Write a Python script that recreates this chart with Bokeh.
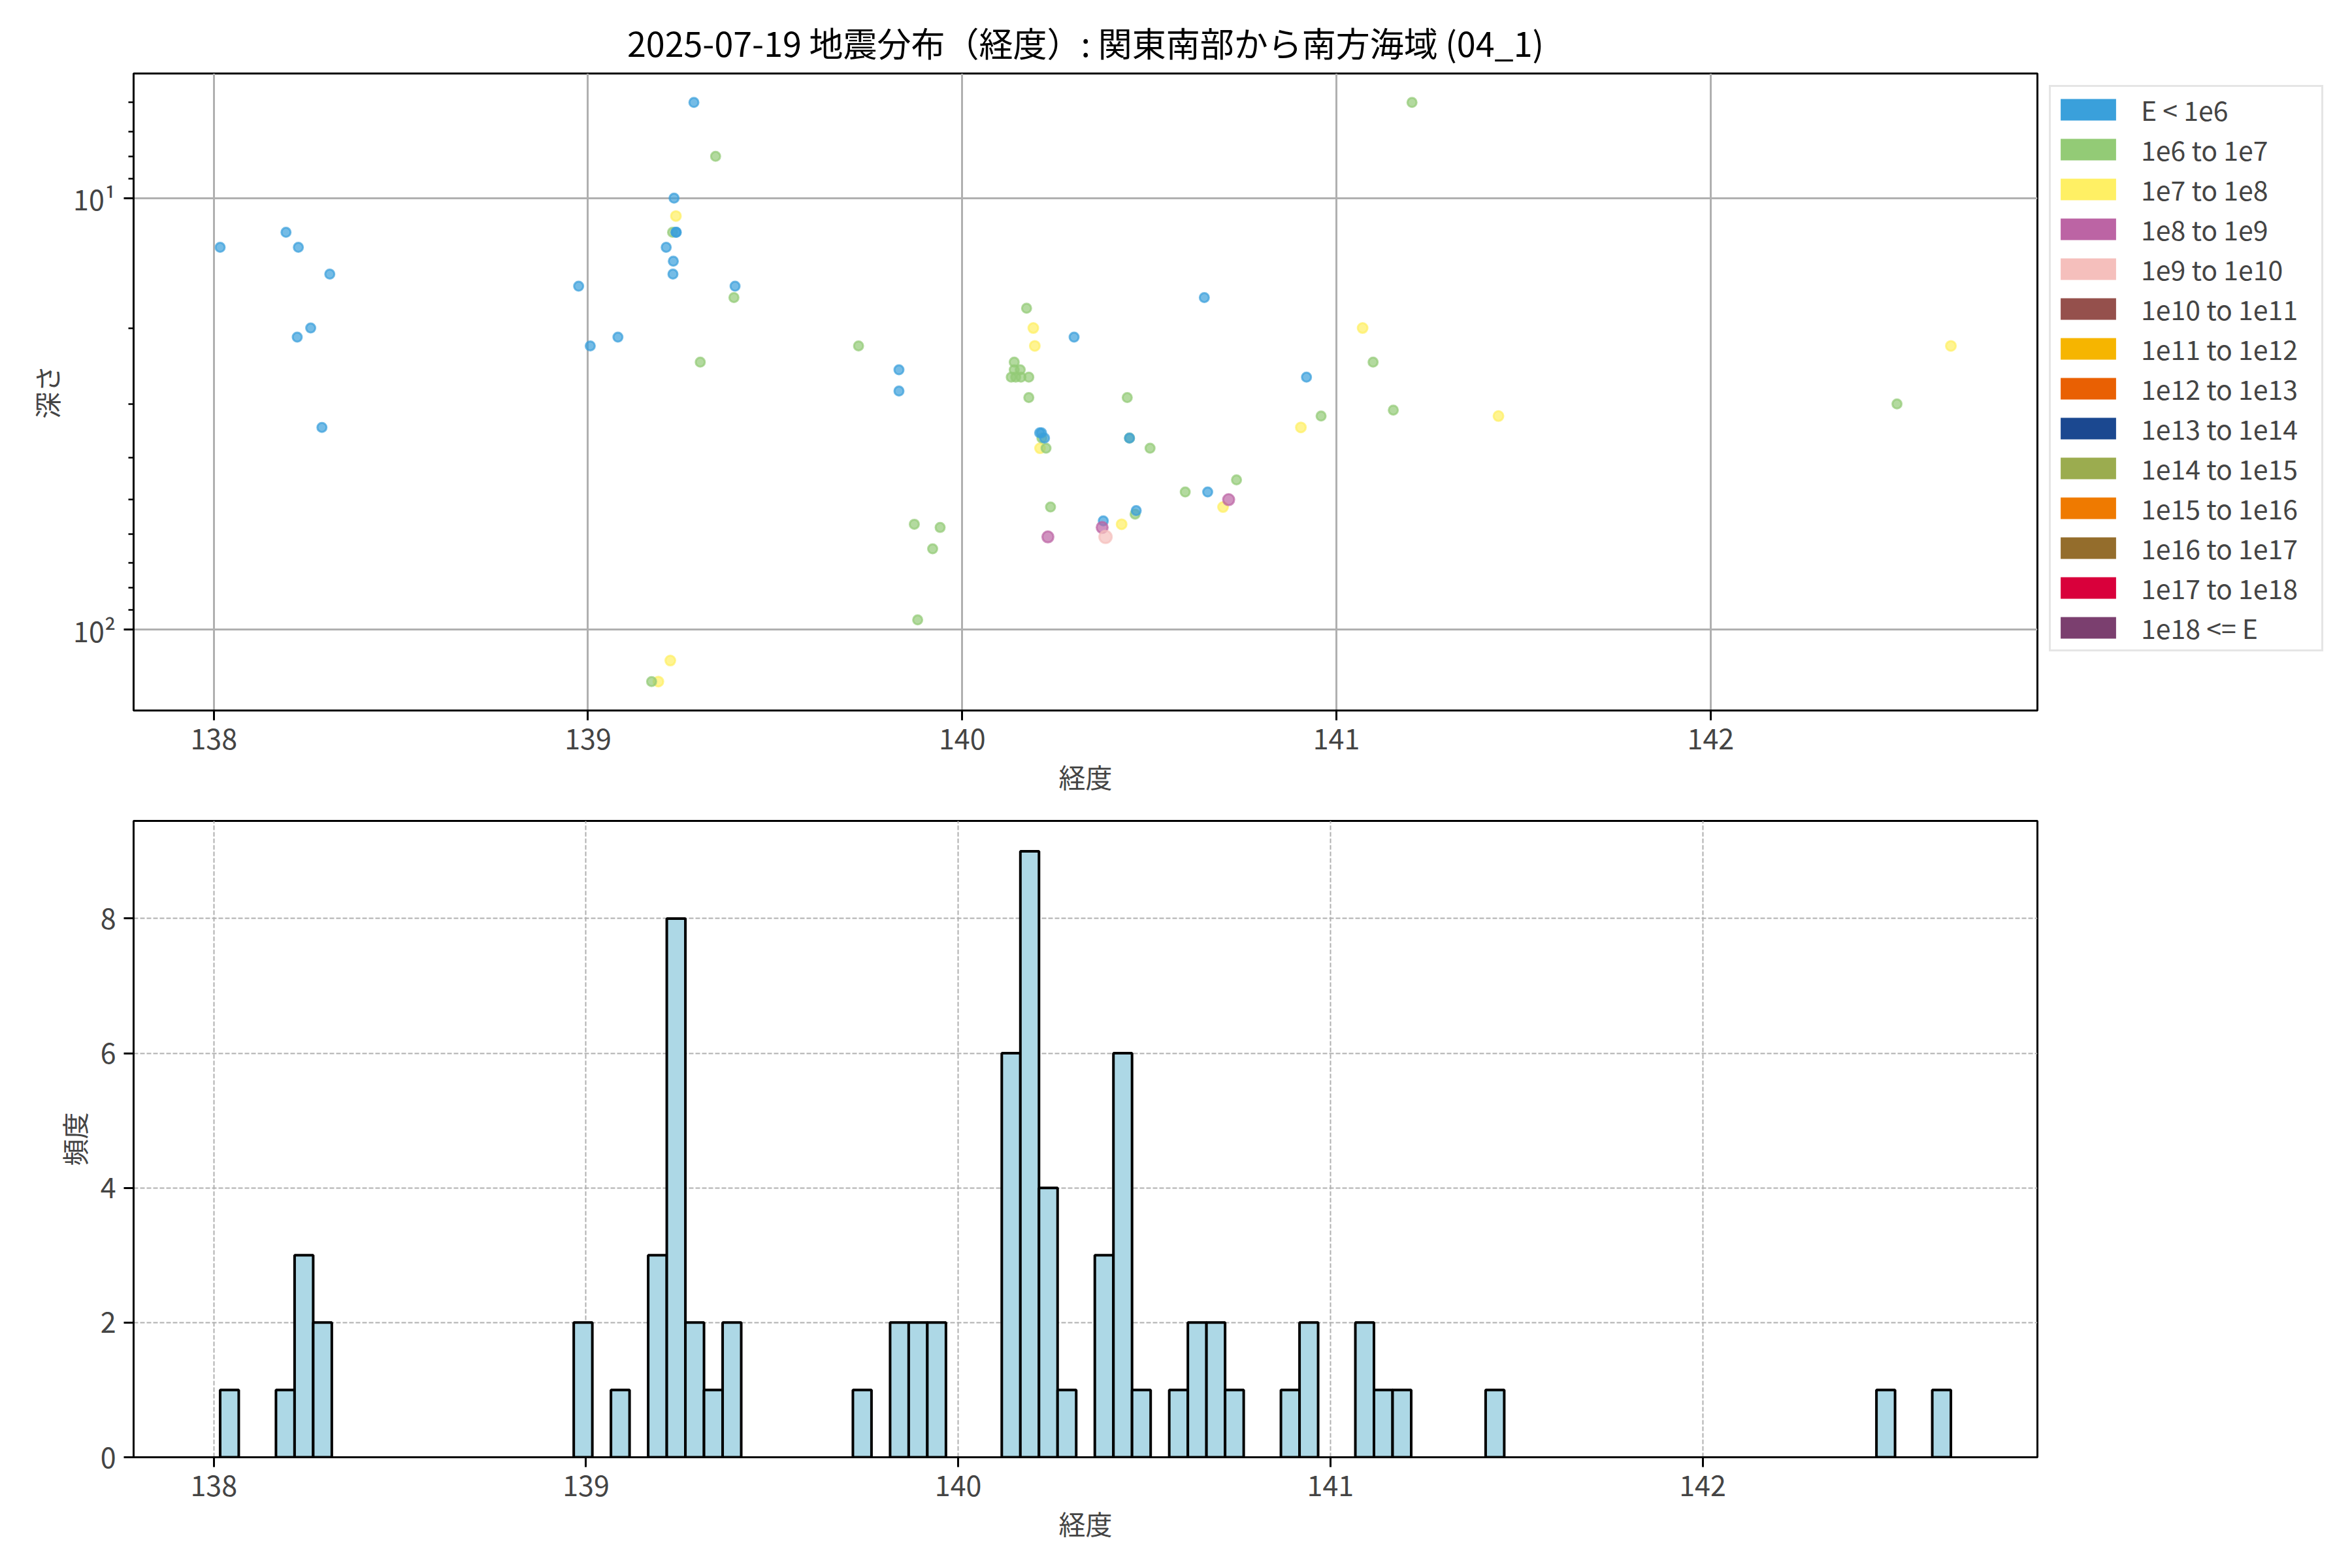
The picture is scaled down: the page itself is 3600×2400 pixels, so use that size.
import numpy as np
from bokeh.plotting import figure
from bokeh.models import (Range1d, FixedTicker, CustomJSTickFormatter, Legend,
                          LegendItem, ColumnDataSource, Title)
from bokeh.layouts import column
from bokeh.embed import file_html
from bokeh.resources import INLINE

FONT = "Noto Sans CJK JP"

# ---------------- data ----------------
title_text = "2025-07-19 地震分布（経度）: 関東南部から南方海域 (04_1)"

energy_labels = ["E < 1e6", "1e6 to 1e7", "1e7 to 1e8", "1e8 to 1e9", "1e9 to 1e10",
                 "1e10 to 1e11", "1e11 to 1e12", "1e12 to 1e13", "1e13 to 1e14",
                 "1e14 to 1e15", "1e15 to 1e16", "1e16 to 1e17", "1e17 to 1e18",
                 "1e18 <= E"]
energy_colors = ["#3aa0db", "#93cb76", "#fff064", "#bc64a4", "#f5bfbc",
                 "#95504c", "#f6b500", "#e96003", "#1b4890", "#9bac4f",
                 "#ef7a00", "#946d2c", "#d9003b", "#7b3f6f"]

# longitude (deg), depth (km), energy class index
lon = [139.283, 139.341, 139.230, 139.235, 139.226, 139.235, 139.236, 139.209,
       139.228, 139.227, 139.393, 139.390, 138.975, 139.006, 139.080, 139.300,
       139.220, 139.170, 139.188, 138.017, 138.193, 138.226, 138.310, 138.223,
       138.259, 138.289,
       141.202, 140.172, 140.190, 140.194, 140.299, 140.647, 139.723, 139.831,
       139.831,
       140.139, 140.139, 140.155, 140.131, 140.143, 140.157, 140.178,
       140.178, 140.441,
       140.207, 140.212, 140.220, 140.213, 140.208, 140.224,
       140.447, 140.447,
       140.502, 140.236, 140.596, 140.656, 140.733, 140.712, 140.697, 140.465,
       140.462, 140.377, 140.374, 140.426, 140.383, 140.229,
       139.872, 139.941, 139.921, 139.881,
       140.920, 140.959, 140.905, 141.070, 141.098, 141.152,
       141.433, 142.498, 142.642]
depth = [6, 8, 10, 11, 12, 12, 12, 13,
         14, 15, 16, 17, 16, 22, 21, 24,
         118, 132, 132, 13, 12, 13, 15, 21,
         20, 34,
         6, 18, 20, 22, 21, 17, 22, 25,
         28,
         24, 25, 25, 26, 26, 26, 26,
         29, 29,
         35, 35, 36, 36, 38, 38,
         36, 36,
         38, 52, 48, 48, 45, 50, 52, 53,
         54, 56, 58, 57, 61, 61,
         57, 58, 65, 95,
         26, 32, 34, 20, 24, 31,
         32, 30, 22]
energy_class = [0, 1, 0, 2, 1, 0, 0, 0,
                0, 0, 0, 1, 0, 0, 0, 1,
                2, 1, 2, 0, 0, 0, 0, 0,
                0, 0,
                1, 1, 2, 2, 0, 0, 1, 0,
                0,
                1, 1, 1, 1, 1, 1, 1,
                1, 1,
                0, 0, 0, 1, 2, 1,
                0, 1,
                1, 1, 1, 0, 1, 3, 2, 0,
                1, 0, 3, 2, 4, 3,
                1, 1, 1, 1,
                0, 1, 2, 2, 1, 1,
                2, 1, 2]

bin_width = 0.05
x_ticks = [138, 139, 140, 141, 142]

# ---------------- styling helpers ----------------
MARKER_SIZE = {0: 14, 1: 14, 2: 15, 3: 17, 4: 19}
DRAW_ORDER = [2, 1, 0, 3, 4]
PAD = 0.05


def style_axes(p):
    for ax in p.axis:
        ax.major_label_text_font = FONT
        ax.major_label_text_font_size = "43px"
        ax.axis_label_text_font = FONT
        ax.axis_label_text_font_size = "41px"
        ax.axis_label_text_font_style = "normal"
        ax.major_tick_in = 0
        ax.major_tick_out = 15
        ax.minor_tick_in = 0
        ax.minor_tick_out = 8
        ax.major_tick_line_width = 3
        ax.minor_tick_line_width = 2.5
        ax.axis_line_width = 3
        ax.major_label_standoff = 12
        ax.axis_label_standoff = 8
    p.outline_line_color = "black"
    p.outline_line_width = 3
    p.outline_line_alpha = 1
    p.background_fill_color = "white"
    p.border_fill_color = "white"


# ---------------- top: scatter ----------------
lon_arr = np.array(lon)
dep_arr = np.array(depth)
cls_arr = np.array(energy_class)

x0, x1 = lon_arr.min(), lon_arr.max()
xr_top = Range1d(x0 - PAD * (x1 - x0), x1 + PAD * (x1 - x0))
ly0, ly1 = np.log10(dep_arr.min()), np.log10(dep_arr.max())
yr_top = Range1d(10 ** (ly1 + PAD * (ly1 - ly0)), 10 ** (ly0 - PAD * (ly1 - ly0)))

p1 = figure(frame_width=2914, frame_height=975, x_range=xr_top, y_range=yr_top,
            y_axis_type="log", output_backend="svg", toolbar_location=None,
            min_border_left=204, min_border_right=20, min_border_top=112,
            min_border_bottom=150)
p1.title = Title(text=title_text, align="center", text_font=FONT,
                 text_font_size="52px", text_font_style="normal",
                 text_color="black", standoff=22)
p1.xaxis.axis_label = "経度"
p1.yaxis.axis_label = "深さ"
p1.xaxis.ticker = FixedTicker(ticks=x_ticks)
p1.yaxis.ticker = FixedTicker(ticks=[10, 100],
                              minor_ticks=[6, 7, 8, 9, 20, 30, 40, 50, 60, 70, 80, 90])
p1.yaxis.formatter = CustomJSTickFormatter(code="""
const sup = {"0":"\u2070","1":"\u00b9","2":"\u00b2","3":"\u00b3","4":"\u2074",
             "5":"\u2075","6":"\u2076","7":"\u2077","8":"\u2078","9":"\u2079"};
const e = Math.round(Math.log10(tick));
return "10" + String(e).split("").map(c => sup[c] || c).join("");
""")
style_axes(p1)
for g in (p1.xgrid, p1.ygrid):
    g.grid_line_color = "#b0b0b0"
    g.grid_line_width = 3

for c in DRAW_ORDER:
    m = cls_arr == c
    if not m.any():
        continue
    src = ColumnDataSource(dict(x=lon_arr[m], y=dep_arr[m]))
    p1.scatter("x", "y", source=src, size=MARKER_SIZE[c], marker="circle",
               fill_color=energy_colors[c], line_color=energy_colors[c],
               fill_alpha=0.7, line_alpha=0.7, line_width=3)

items = []
nan = float("nan")
for lab, col in zip(energy_labels, energy_colors):
    # legend-only proxy (NaN geometry -> nothing drawn in the plot area)
    r = p1.quad(left=[nan], right=[nan], top=[nan], bottom=[nan], fill_color=col,
                line_alpha=0, fill_alpha=1)
    items.append(LegendItem(label=lab, renderers=[r]))
legend = Legend(items=items, location="top_left", glyph_width=106,
                glyph_height=41, label_standoff=28, spacing=1, padding=4,
                margin=18, label_text_font=FONT, label_text_font_size="41px",
                label_height=41, label_width=272, border_line_color="#cccccc",
                border_line_width=3, background_fill_color="white",
                background_fill_alpha=1)
p1.add_layout(legend, "right")

# ---------------- bottom: histogram ----------------
edges = np.arange(x0, x1 + bin_width, bin_width)
counts, _ = np.histogram(lon_arr, bins=edges)
nz = counts > 0
e0, e1 = edges[0], edges[-1]
xr_bot = Range1d(e0 - PAD * (e1 - e0), e1 + PAD * (e1 - e0))
yr_bot = Range1d(0, counts.max() * (1 + PAD))

p2 = figure(frame_width=2914, frame_height=974, x_range=xr_bot, y_range=yr_bot,
            output_backend="svg", toolbar_location=None,
            min_border_left=204, min_border_right=20, min_border_top=19,
            min_border_bottom=150)
p2.xaxis.axis_label = "経度"
p2.yaxis.axis_label = "頻度"
p2.xaxis.ticker = FixedTicker(ticks=x_ticks)
p2.yaxis.ticker = FixedTicker(ticks=[0, 2, 4, 6, 8])
style_axes(p2)
for g in (p2.xgrid, p2.ygrid):
    g.grid_line_color = "#b0b0b0"
    g.grid_line_width = 2
    g.grid_line_dash = "7 3"

p2.quad(left=edges[:-1][nz], right=edges[1:][nz], bottom=0, top=counts[nz],
        fill_color="#add8e6", line_color="black", line_width=4)

layout = column(p1, p2)
open("out.html", "w").write(file_html(layout, INLINE))
